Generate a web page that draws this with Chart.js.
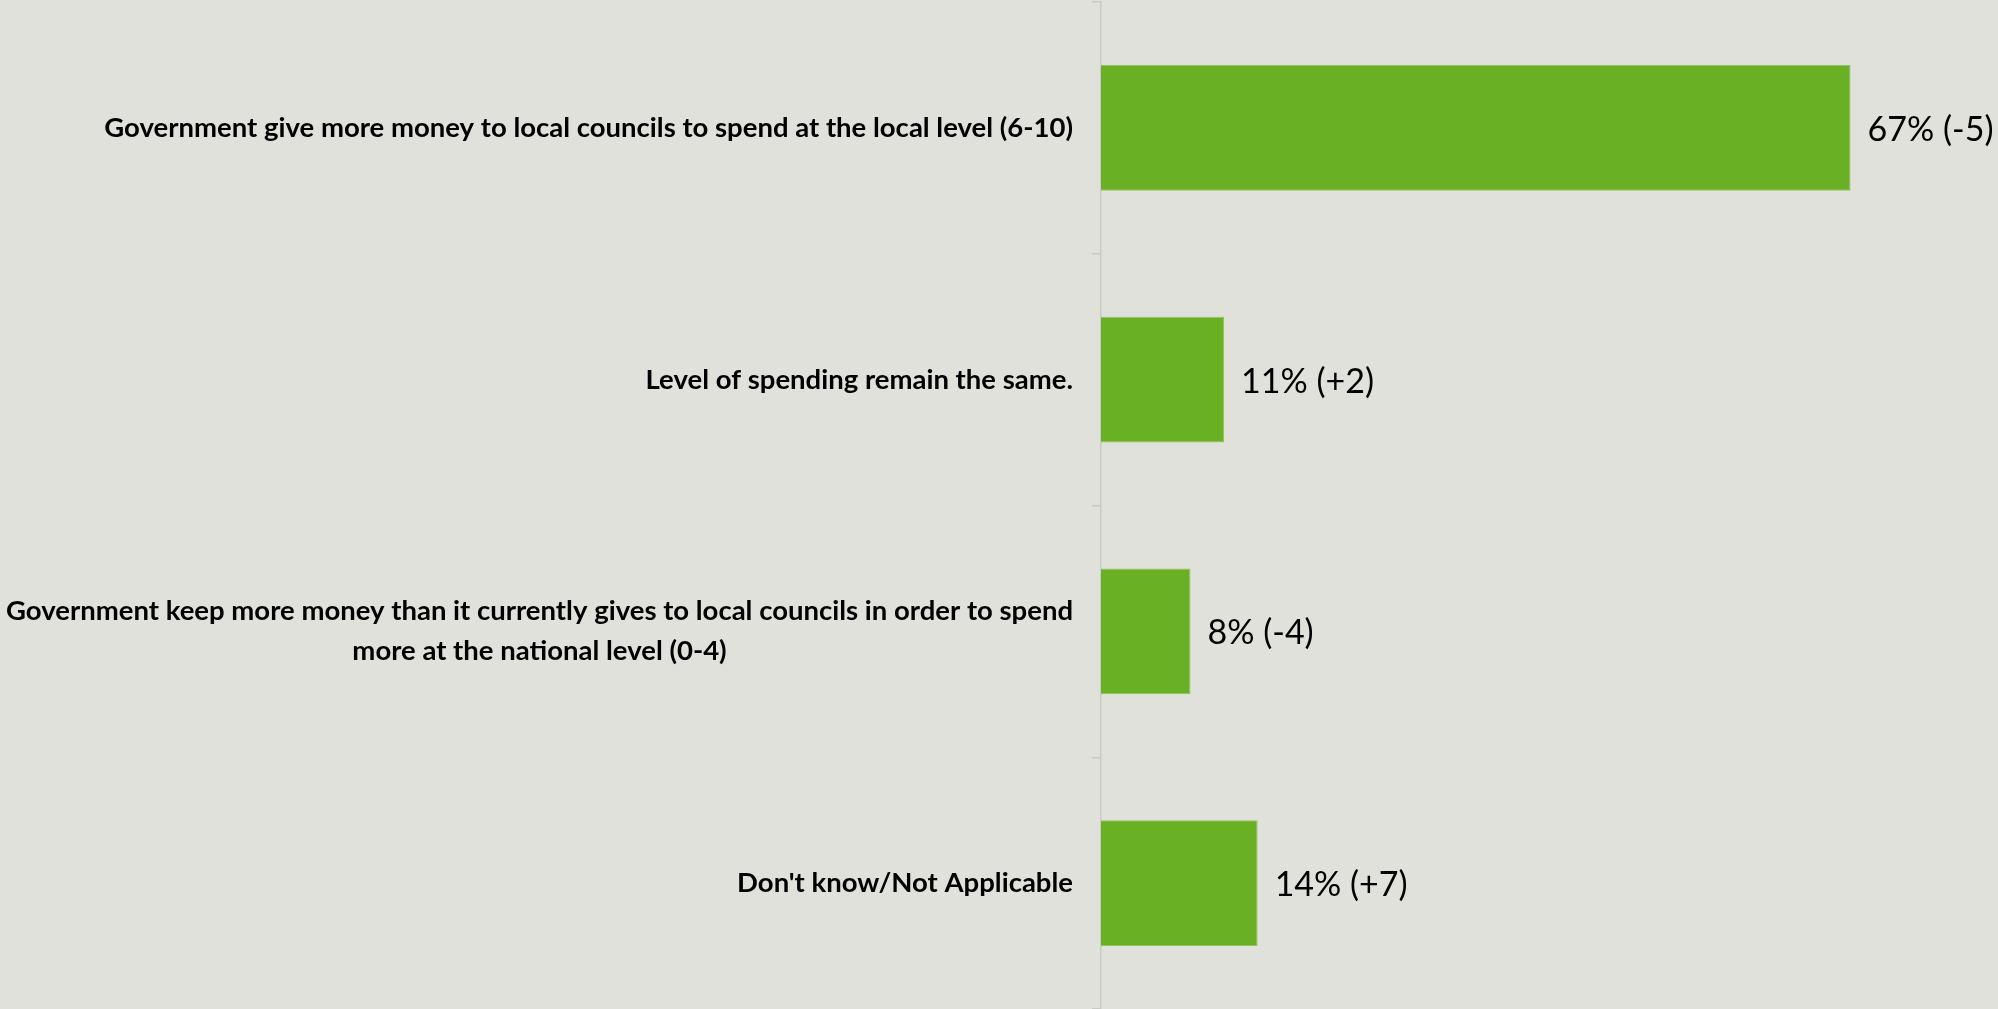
<!DOCTYPE html>
<html>
<head>
<meta charset="utf-8">
<script src="https://cdn.jsdelivr.net/npm/chart.js@4.4.0/dist/chart.umd.min.js"></script>
<style>
    html, body { margin: 0; padding: 0; background: #e0e1da; }
    #wrap { width: 1998px; height: 1009px; }
</style>
</head>
<body>
<div id="wrap"><canvas id="chart_spending"></canvas></div>
<script>
// ----------------------- data -----------------------

const categories = [
    ["Government give more money to local councils to spend at the local level (6-10)"],
    ["Level of spending remain the same."],
    ["Government keep more money than it currently gives to local councils in order to spend",
     "more at the national level (0-4)"],
    ["Don't know/Not Applicable"],
];
const shares = [67, 11, 8, 14];
const changes = ["-5", "+2", "-4", "+7"];

const BAR_GREEN = "#6ab024";
const LABEL_FONT = "bold 27.5px Lato, 'Open Sans', sans-serif";
const VALUE_FONT = "34px Lato, 'Open Sans', sans-serif";

// ----------------------- plugins -----------------------

// category labels: block right aligned, lines centred inside the block
const categoryLabels = {
    id: "categoryLabels",
    afterDraw(chart) {
        const ctx = chart.ctx;
        const yScale = chart.scales.y;
        const rightEdge = 1073;
        const lineH = 40;
        ctx.save();
        ctx.font = LABEL_FONT;
        ctx.fillStyle = "#000";
        ctx.textAlign = "center";
        ctx.textBaseline = "middle";
        categories.forEach((lines, i) => {
            const y = yScale.getPixelForTick(i);
            const maxW = Math.max(...lines.map(l => ctx.measureText(l).width));
            const cx = rightEdge - maxW / 2;
            const top = y - (lines.length - 1) * lineH / 2;
            lines.forEach((l, j) => ctx.fillText(l, cx, top + j * lineH));
        });
        ctx.restore();
    }
};

// value labels at bar ends
const valueLabels = {
    id: "valueLabels",
    afterDatasetsDraw(chart) {
        const ctx = chart.ctx;
        const meta = chart.getDatasetMeta(0);
        ctx.save();
        ctx.font = VALUE_FONT;
        ctx.fillStyle = "#000";
        ctx.textAlign = "left";
        ctx.textBaseline = "middle";
        meta.data.forEach((bar, i) => {
            ctx.fillText(`${shares[i]}% (${changes[i]})`, bar.x + 17, bar.y + 2);
        });
        ctx.restore();
    }
};

// ----------------------- chart -----------------------

new Chart(document.getElementById("chart_spending"), {
    type: "bar",
    data: {
        labels: categories.map(c => c.join(" ")),
        datasets: [{
            data: shares,
            backgroundColor: BAR_GREEN,
            borderColor: "#8fc45c",
            borderWidth: 1,
            barPercentage: 0.5,
            categoryPercentage: 1.0,
        }]
    },
    options: {
        indexAxis: "y",
        responsive: true,
        maintainAspectRatio: false,
        animation: false,
        layout: { padding: { top: 2, right: 2, left: 0, bottom: 0 } },
        plugins: {
            legend: { display: false },
            tooltip: { enabled: false }
        },
        scales: {
            x: {
                display: false,
                min: 0,
                max: 80
            },
            y: {
                afterFit(scale) { scale.width = 1101; },
                ticks: { display: false },
                grid: {
                    drawOnChartArea: false,
                    drawTicks: true,
                    tickLength: 9,
                    color: "#c9c9c6",
                    lineWidth: 1.5
                },
                border: { color: "#c9c9c6", width: 1.5 }
            }
        }
    },
    plugins: [categoryLabels, valueLabels]
});
</script>
</body>
</html>
